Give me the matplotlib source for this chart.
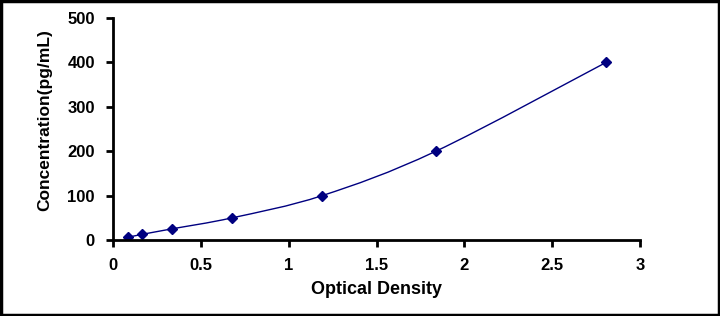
import numpy as np
import matplotlib
matplotlib.use("Agg")
import matplotlib.pyplot as plt
from matplotlib.path import Path
from matplotlib.patches import PathPatch, Rectangle

# Standard curve data
od = [0.087, 0.163, 0.334, 0.679, 1.191, 1.838, 2.807]
conc = [6.25, 12.5, 25, 50, 100, 200, 400]
x_ticks = [0, 0.5, 1, 1.5, 2, 2.5, 3]
x_tick_labels = ["0", "0.5", "1", "1.5", "2", "2.5", "3"]
y_ticks = [0, 100, 200, 300, 400, 500]

NAVY = "#000080"

plt.rcParams["font.family"] = ["Liberation Sans", "DejaVu Sans"]
plt.rcParams["font.weight"] = "bold"


def smooth_path(xs, ys):
    """Catmull-Rom style smooth line through the points, as cubic Beziers."""
    pts = np.column_stack([xs, ys]).astype(float)
    ext = np.vstack([pts[0], pts, pts[-1]])
    verts = [pts[0]]
    codes = [Path.MOVETO]
    for i in range(1, len(ext) - 2):
        p0, p1, p2, p3 = ext[i - 1], ext[i], ext[i + 1], ext[i + 2]
        verts += [p1 + (p2 - p0) / 6, p2 - (p3 - p1) / 6, p2]
        codes += [Path.CURVE4] * 3
    return Path(verts, codes)


fig = plt.figure(figsize=(7.2, 3.16), dpi=100)
ax = fig.add_axes([113 / 720, 1 - 240 / 316, 527 / 720, 222 / 316])

ax.add_patch(PathPatch(smooth_path(od, conc), facecolor="none",
                       edgecolor=NAVY, linewidth=1.0))
ax.plot(od, conc, linestyle="none", marker="D", markersize=5,
        color=NAVY, markeredgecolor=NAVY)

ax.set_xlim(0, 3)
ax.set_ylim(0, 500)
ax.set_xticks(x_ticks)
ax.set_xticklabels(x_tick_labels)
ax.set_yticks(y_ticks)

for side in ["top", "right"]:
    ax.spines[side].set_visible(False)
for side in ["left", "bottom"]:
    ax.spines[side].set_linewidth(2)
ax.tick_params(direction="out", length=5, width=2, labelsize=12, pad=8)

ax.set_xlabel("Optical Density", fontsize=13, fontweight="bold", labelpad=6)
ax.set_ylabel("Concentration(pg/mL)", fontsize=12.5, fontweight="bold", labelpad=11)
ax.yaxis.label.set_y(0.54)

# outer frame
fig.add_artist(Rectangle((0.002, 0.003), 0.996, 0.994, transform=fig.transFigure,
                         fill=False, edgecolor="black", linewidth=2.5))

fig.savefig("out.png", dpi=100)
